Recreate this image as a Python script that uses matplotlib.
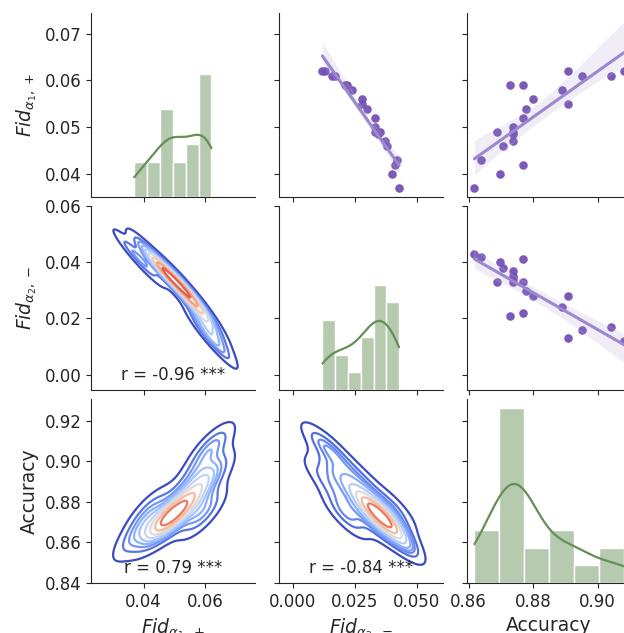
import numpy as np
import pandas as pd
import matplotlib
matplotlib.use("Agg")
import matplotlib.pyplot as plt
import seaborn as sns

# ---- data ----
accuracy = [0.8618, 0.8637, 0.8697, 0.8688, 0.8707, 0.8739, 0.8739, 0.8739, 0.8739,
            0.8727, 0.8769, 0.8769, 0.8769, 0.8779, 0.8799, 0.8890, 0.8909, 0.8909,
            0.8950, 0.9041, 0.9080]
fid_a1_plus = [0.037, 0.043, 0.040, 0.049, 0.046, 0.050, 0.049, 0.047, 0.0485,
               0.059, 0.059, 0.042, 0.052, 0.054, 0.056, 0.058, 0.062, 0.055,
               0.061, 0.061, 0.062]
fid_a2_minus = [0.0428, 0.0418, 0.0400, 0.0330, 0.0380, 0.0330, 0.0352, 0.0370, 0.0345,
                0.0209, 0.0219, 0.0410, 0.0330, 0.0299, 0.0279, 0.0239, 0.0130, 0.0279,
                0.0159, 0.0169, 0.0119]

var_names = ["fid1", "fid2", "acc"]
var_labels = [r"$Fid_{\alpha_1,+}$", r"$Fid_{\alpha_2,-}$", "Accuracy"]
df = pd.DataFrame({"fid1": fid_a1_plus, "fid2": fid_a2_minus, "acc": accuracy})

# axis settings (style / layout)
x_limits = [(0.0230, 0.0761), (-0.0056, 0.0605), (0.8595, 0.9103)]
y_limits = [(0.0351, 0.0744), (-0.0055, 0.0600), (0.8400, 0.9308)]
x_ticks = [[0.04, 0.06], [0.000, 0.025, 0.050], [0.86, 0.88, 0.90]]
y_ticks = [[0.04, 0.05, 0.06, 0.07], [0.00, 0.02, 0.04, 0.06], [0.84, 0.86, 0.88, 0.90, 0.92]]

sns.set_style("ticks")
plt.rcParams["font.family"] = ["DejaVu Sans"]
plt.rcParams["xtick.labelsize"] = 12
plt.rcParams["ytick.labelsize"] = 12
plt.rcParams["axes.labelsize"] = 13.5

point_color = "#7451b4"
line_color = "#9c88cf"
bar_color = "#5f8a4f"
kde_line_color = "#668f57"

W, H = 624, 633
fig = plt.figure(figsize=(W / 100, H / 100), dpi=100)
lefts = [91, 279, 467]
tops = [13, 206, 399]
aw, ah = 164, 184

n = len(df)


def stars(r, n):
    t = abs(r) * np.sqrt((n - 2) / (1 - r ** 2))
    if t > 3.883:
        return "***"
    if t > 2.861:
        return "**"
    if t > 2.093:
        return "*"
    return ""


for i in range(3):
    for j in range(3):
        ax = fig.add_axes([lefts[j] / W, (H - tops[i] - ah) / H, aw / W, ah / H])
        xv = df[var_names[j]]
        yv = df[var_names[i]]
        if i == j:
            tw = ax.twinx()
            sns.histplot(x=xv, ax=tw, kde=True, color=bar_color, alpha=0.45,
                         edgecolor="white", linewidth=1.0,
                         line_kws=dict(linewidth=1.6))
            if tw.lines:
                tw.lines[0].set_color(kde_line_color)
            tw.set_ylim(0, 10.5)
            tw.set_axis_off()
        elif i < j:
            sns.regplot(x=xv, y=yv, ax=ax, seed=0,
                        scatter_kws=dict(s=38, color=point_color, alpha=0.95, linewidths=0),
                        line_kws=dict(color=line_color, linewidth=2.2))
        else:
            sns.kdeplot(x=xv, y=yv, ax=ax, cmap="coolwarm", levels=10, linewidths=1.6)
            r = np.corrcoef(xv, yv)[0, 1]
            ax.text(0.5, 0.052, f"r = {r:.2f} {stars(r, n)}", transform=ax.transAxes,
                    ha="center", va="baseline", fontsize=12, color="0.15")
        ax.set_xlim(x_limits[j])
        ax.set_ylim(y_limits[i])
        ax.set_xticks(x_ticks[j])
        ax.set_yticks(y_ticks[i])
        ax.set_xlim(x_limits[j])
        ax.set_ylim(y_limits[i])
        for s in ["top", "right"]:
            ax.spines[s].set_visible(False)
        if j == 0:
            ax.set_ylabel(var_labels[i])
        else:
            ax.set_ylabel("")
            ax.tick_params(axis="y", labelleft=False)
        if i == 2:
            ax.set_xlabel(var_labels[j])
        else:
            ax.set_xlabel("")
            ax.tick_params(axis="x", labelbottom=False)

fig.savefig("out.png", dpi=100)
